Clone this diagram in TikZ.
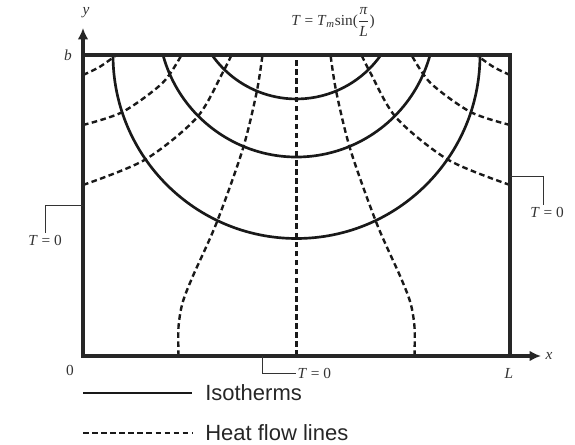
\documentclass[tikz,border=0pt]{standalone}
\usepackage{amsmath}
\usepackage{fontspec}
\setmainfont{Liberation Serif}
\setsansfont{Liberation Sans}
\usetikzlibrary{
  arrows.meta,
  positioning,
}
\tikzset{
  wall/.style={
    line width=2.6pt, draw=black!85, line cap=rect,
  },
  axisArrow/.style={
    wall, -{Latex[length=8.5pt,width=8pt]},
  },
  isotherm/.style={
    line width=2pt, draw=black!90,
  },
  flowline/.style={
    line width=1.8pt, draw=black!90, dash pattern=on 4.2pt off 2.6pt,
  },
  leader/.style={
    line width=0.7pt, draw=black!80,
  },
  tlabel/.style={
    font=\fontsize{11.5}{13}\selectfont, inner sep=1pt, text=black!80,
  },
  legendText/.style={
    font=\sffamily\fontsize{16.5}{19}\selectfont, anchor=west,
    inner sep=0pt, text=black!85,
  },
}

\begin{document}
\begin{tikzpicture}[x=0.75pt, y=0.75pt]
\useasboundingbox (0,0) rectangle (575,445);

% Isotherms
\draw[isotherm] (113,390) arc[start angle=180, end angle=360, radius=183.5];
\draw[isotherm] (163,390) arc[start angle=195.25, end angle=344.75, radius=138.4];
\draw[isotherm] (212,390) arc[start angle=215, end angle=325, radius=103.1];

% Heat flow lines: left half, then its mirror image
\foreach \side in {1,-1}
{
  \begin{scope}[shift={(296.5,0)}, xscale=\side]
    \draw[flowline] plot[smooth] coordinates
      {(-213.5,370) (-197,378) (-180,390)};
    \draw[flowline] plot[smooth] coordinates
      {(-213.5,320) (-174,333) (-134,362) (-115,390)};
    \draw[flowline] plot[smooth] coordinates
      {(-213.5,260) (-152,285) (-100,327) (-74,372) (-65,390)};
    \draw[flowline] plot[smooth] coordinates
      {(-118,89) (-118,118) (-114,142) (-104,168) (-80,222)
       (-54,295) (-40,352) (-34,390)};
  \end{scope}
}
\draw[flowline] (296.5,89) -- (296.5,390);

% Plate edges and axes
\draw[wall] (83,390) -- (510,390) -- (510,89);
\draw[axisArrow] (83,89) -- (541,89);
\draw[axisArrow] (83,89) -- (83,417);

% Axis labels
\node[tlabel] (lblY) at (86,432) {\textit{y}};
\node[tlabel] (lblB) at (68,390) {\textit{b}};
\node[tlabel] (lblZero) at (70,75) {0};
\node[tlabel] (lblL) at (509,72) {\textit{L}};
\node[tlabel] (lblX) at (549,89) {\textit{x}};

% Boundary conditions
\node[tlabel] (lblTop) at (333,423)
   {\textit{T} = \textit{T}\textsubscript{\textit{m}}sin($\dfrac{\text{\textit{π}}}{\text{\textit{L}}}$)};
\node[tlabel] (tLeft) at (45,205) {\textit{T} = 0};
\node[tlabel] (tRight) at (547,233) {\textit{T} = 0};
\node[tlabel, anchor=west] (tBottom) at (296,72) {\textit{T} = 0};
\coordinate (wallLeft) at (83,240);
\coordinate (wallRight) at (510,269);
\coordinate (wallBottom) at (262,89);
\draw[leader] (tLeft.north) |- (wallLeft);
\draw[leader] (wallRight) -| ([xshift=-3pt]tRight.north);
\draw[leader] (wallBottom) |- (tBottom.west);

% Legend
\node[legendText] (legIso) at (205,52) {Isotherms};
\node[legendText] (legFlow) at (205,12) {Heat flow lines};
\coordinate (isoStart) at (83,52);
\coordinate (flowStart) at (83,12);
\draw[isotherm] (isoStart) -- ([xshift=-9.5pt]legIso.west);
\draw[flowline] (flowStart) -- ([xshift=-9.5pt]legFlow.west);

\end{tikzpicture}
\end{document}
